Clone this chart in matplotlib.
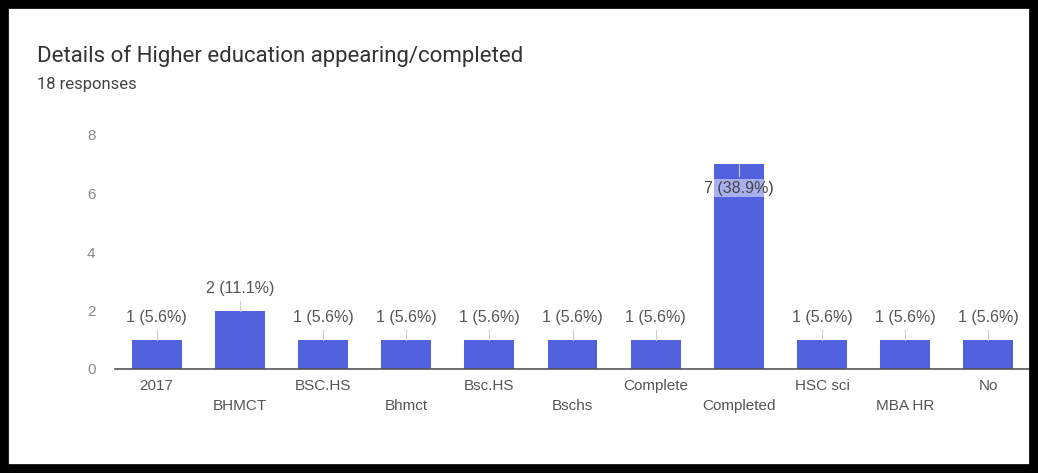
import matplotlib
matplotlib.use("Agg")
import matplotlib.pyplot as plt
from matplotlib.patches import Rectangle

categories = ["2017", "BHMCT", "BSC.HS", "Bhmct", "Bsc.HS", "Bschs",
              "Complete", "Completed", "HSC sci", "MBA HR", "No"]
counts = [1, 2, 1, 1, 1, 1, 1, 7, 1, 1, 1]
total = 18
yticks = [0, 2, 4, 6, 8]

plt.rcParams['font.family'] = ['Liberation Sans', 'DejaVu Sans']

W, H = 1038, 473
fig = plt.figure(figsize=(W/100, H/100), dpi=100)
fig.patch.set_facecolor("white")

# axes: x from 115 to 1030 px, y0 at 369, y8 at 135
ax = fig.add_axes([115/W, 1-369/H, (1030-115)/W, (369-135)/H])
ax.set_xlim(-0.5, len(categories)-0.5)
ax.set_ylim(0, 8)
bar_color = "#5262df"
xs = list(range(len(categories)))
ax.bar(xs, counts, width=0.6, color=bar_color, zorder=2)

for sp in ["top", "right", "left"]:
    ax.spines[sp].set_visible(False)
ax.spines["bottom"].set_color("#555555")
ax.spines["bottom"].set_linewidth(1.2)
ax.set_yticks(yticks)
ax.set_yticklabels([str(v) for v in yticks])
ax.tick_params(axis="y", length=0, pad=14, labelcolor="#888888", labelsize=11)
ax.set_xticks(xs)
ax.set_xticklabels([])
ax.tick_params(axis="x", length=0)

ppu = (369-135)/8.0
for i, (c, v) in enumerate(zip(categories, counts)):
    row = i % 2
    ax.text(i, -(17 + 20*row)/ppu, c, ha="center", va="center",
            fontsize=11, color="#555555")
    pct = 100.0*v/total
    lab = f"{v} ({pct:.1f}%)"
    if v >= 7:
        ax.plot([i, i], [v, v - 12/ppu], color="#cccccc", lw=0.8, zorder=3)
        ax.text(i, v - 24/ppu, lab, ha="center", va="center", fontsize=11.5,
                color="#444444", zorder=4,
                bbox=dict(boxstyle="square,pad=0.1", fc="white", ec="none", alpha=0.5))
    else:
        ax.plot([i, i], [v, v + 10/ppu], color="#cccccc", lw=0.8, zorder=3)
        ax.text(i, v + 22/ppu, lab, ha="center", va="center", fontsize=11.5,
                color="#555555")

fig.text(37/W, 1-56/H, "Details of Higher education appearing/completed",
         fontsize=16, color="#333333", ha="left", va="center",
         family=['Roboto', 'DejaVu Sans'])
fig.text(37/W, 1-85/H, "18 responses", fontsize=12, color="#444444",
         ha="left", va="center", family=['Roboto', 'DejaVu Sans'])

# black photo frame
fig.patches.append(Rectangle((4/W, 4/H), (W-8)/W, (H-8)/H, transform=fig.transFigure,
                             fill=False, ec="black", lw=7, zorder=10))

fig.savefig("out.png", dpi=100)
